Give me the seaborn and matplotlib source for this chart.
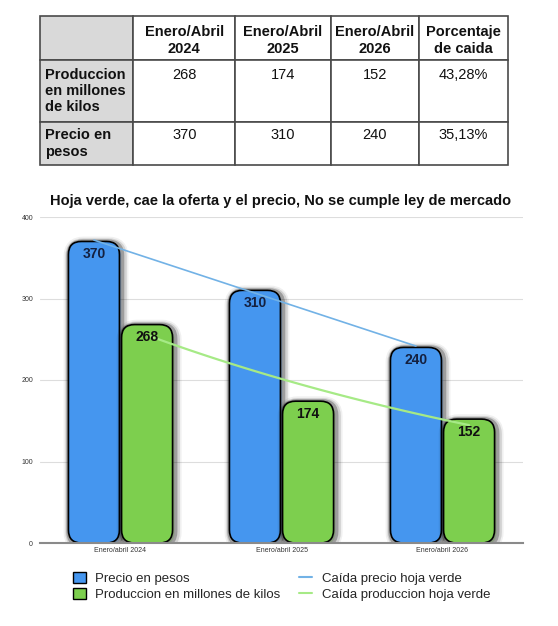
import numpy as np
import pandas as pd
import matplotlib
matplotlib.use("Agg")
import matplotlib.pyplot as plt
import seaborn as sns
from matplotlib.patches import FancyBboxPatch, Patch
from matplotlib.lines import Line2D
import matplotlib.patheffects as pe

# ---------------- data ----------------
periodos = ["Enero/abril 2024", "Enero/abril 2025", "Enero/abril 2026"]
precio = [370, 310, 240]
produccion = [268, 174, 152]
series = ["Precio en pesos", "Produccion en millones de kilos"]
tendencias = ["Caída precio hoja verde", "Caída produccion hoja verde"]
titulo = "Hoja verde, cae la oferta y el precio, No se cumple ley de mercado"
yticks = [0, 100, 200, 300, 400]

tabla_cols = ["", "Enero/Abril\n2024", "Enero/Abril\n2025", "Enero/Abril\n2026", "Porcentaje\nde caida"]
tabla_filas = ["Produccion\nen millones\nde kilos", "Precio en\npesos"]
tabla_prod = ["268", "174", "152", "43,28%"]
tabla_precio = ["370", "310", "240", "35,13%"]

# ---------------- style ----------------
BLUE = "#4596EF"
GREEN = "#7DCF4E"
BLUE_LINE = "#72B2E6"
GREEN_LINE = "#A6EA86"
NAVY = "#14203F"

sns.set_theme(style="white")
plt.rcParams["font.family"] = ["Liberation Sans", "DejaVu Sans"]

W, H = 558, 626
fig = plt.figure(figsize=(W / 100, H / 100), dpi=100)
fig.patch.set_facecolor("white")

# ---------------- table ----------------
ax_t = fig.add_axes([40 / W, 1 - 165 / H, 468 / W, 149 / H])
ax_t.axis("off")
cell_text = [tabla_cols,
             [tabla_filas[0]] + [v + "\n\n" for v in tabla_prod],
             [tabla_filas[1]] + [v + "\n" for v in tabla_precio]]
tbl = ax_t.table(cellText=cell_text, cellLoc="center", bbox=[0, 0, 1, 1])
tbl.auto_set_font_size(False)
col_w = [93, 102, 95, 88, 89]
row_h = [44, 62, 43]
for (r, c), cell in tbl.get_celld().items():
    cell.set_width(col_w[c] / 1000)
    cell.set_height(row_h[r] / 1000)
    cell.set_edgecolor("#4a4a4a")
    cell.set_linewidth(1.2)
    txt = cell.get_text()
    txt.set_fontsize(10.5)
    txt.set_color("#111111")
    txt.set_linespacing(1.2)
    if r == 0:
        txt.set_va("center_baseline")
    if r == 0 or c == 0:
        txt.set_fontweight("bold")
    if c == 0:
        cell.set_facecolor("#D9D9D9")
        if r > 0:
            txt.set_ha("left")
            cell.PAD = 0.05
    else:
        cell.set_facecolor("white")

# ---------------- chart ----------------
ax = fig.add_axes([40 / W, 1 - 543 / H, 483 / W, 326 / H])
df = pd.DataFrame({
    "periodo": periodos * 2,
    "valor": precio + produccion,
    "serie": [series[0]] * len(precio) + [series[1]] * len(produccion),
})
sns.barplot(data=df, x="periodo", y="valor", hue="serie", order=periodos,
            hue_order=series, palette=[BLUE, GREEN], width=0.66, gap=0.04,
            errorbar=None, legend=False, ax=ax)
ax.set_xlim(-0.5, 2.5)
ax.set_ylim(0, 400)
ax.set_yticks(yticks)
ax.set_xlabel("")
ax.set_ylabel("")

p0 = ax.transData.transform((0, 0))
p1 = ax.transData.transform((1, 1))
sx, sy = p1[0] - p0[0], p1[1] - p0[1]
aspect = sx / sy
rad = 13 / sx

shadow = [
    pe.Stroke(linewidth=10, foreground="black", alpha=0.06, offset=(1.5, -1.5)),
    pe.Stroke(linewidth=7.5, foreground="black", alpha=0.12, offset=(1.5, -1.5)),
    pe.Stroke(linewidth=5, foreground="black", alpha=0.25, offset=(1, -1)),
    pe.Normal(),
]

centers = []
for cont, col, labcol in zip(ax.containers, [BLUE, GREEN], [NAVY, "#111111"]):
    cs = []
    for bar in cont:
        x, y = bar.get_x(), bar.get_y()
        w, h = bar.get_width(), bar.get_height()
        bar.set_visible(False)
        fb = FancyBboxPatch((x, y), w, h,
                            boxstyle=f"round,pad=0,rounding_size={rad}",
                            mutation_aspect=aspect, facecolor=col,
                            edgecolor="black", linewidth=1.2, zorder=2)
        fb.set_path_effects(shadow)
        ax.add_patch(fb)
        ax.annotate(f"{h:.0f}", (x + w / 2, y + h), xytext=(0, -9),
                    textcoords="offset points", ha="center", va="center",
                    fontsize=10, fontweight="bold", color=labcol, zorder=6)
        cs.append(x + w / 2)
    centers.append(np.array(cs))

# trend lines (fitted from the data)
xi = np.arange(len(precio))
k1, c1 = np.polyfit(xi, precio, 1)
ax.plot(centers[0], k1 * xi + c1, color=BLUE_LINE, lw=1.2, zorder=4)
k2, c2 = np.polyfit(xi, np.log(produccion), 1)
t = np.linspace(0, len(produccion) - 1, 80)
xg = centers[1][0] + t * (centers[1][1] - centers[1][0])
ax.plot(xg, np.exp(c2 + k2 * t), color=GREEN_LINE, lw=1.6, zorder=4)

ax.yaxis.grid(True, color="#DDDDDD", lw=0.8)
ax.xaxis.grid(False)
ax.set_axisbelow(True)
for s in ["left", "top", "right"]:
    ax.spines[s].set_visible(False)
ax.spines["bottom"].set_color("#8A8A8A")
ax.spines["bottom"].set_linewidth(1.5)
ax.tick_params(axis="both", length=0, labelsize=5, colors="#333333")
ax.tick_params(axis="y", pad=5)
ax.tick_params(axis="x", pad=3)

fig.text(281 / W, 1 - 201 / H, titulo, ha="center", va="center",
         fontsize=10.5, fontweight="bold", color="#111111")

handles = [
    Patch(facecolor=BLUE, edgecolor="black", linewidth=1.0),
    Patch(facecolor=GREEN, edgecolor="black", linewidth=1.0),
    Line2D([], [], color=BLUE_LINE, lw=1.5),
    Line2D([], [], color=GREEN_LINE, lw=1.5),
]
labels = series + tendencias
fig.legend(handles, labels, loc="upper left", bbox_to_anchor=(73 / W, 1 - 572 / H),
           ncol=2, frameon=False, fontsize=9.5, borderpad=0, borderaxespad=0,
           handlelength=1.0, handleheight=0.85, handletextpad=0.7,
           columnspacing=1.4, labelspacing=0.25)

fig.savefig("out.png", dpi=100, facecolor="white")
